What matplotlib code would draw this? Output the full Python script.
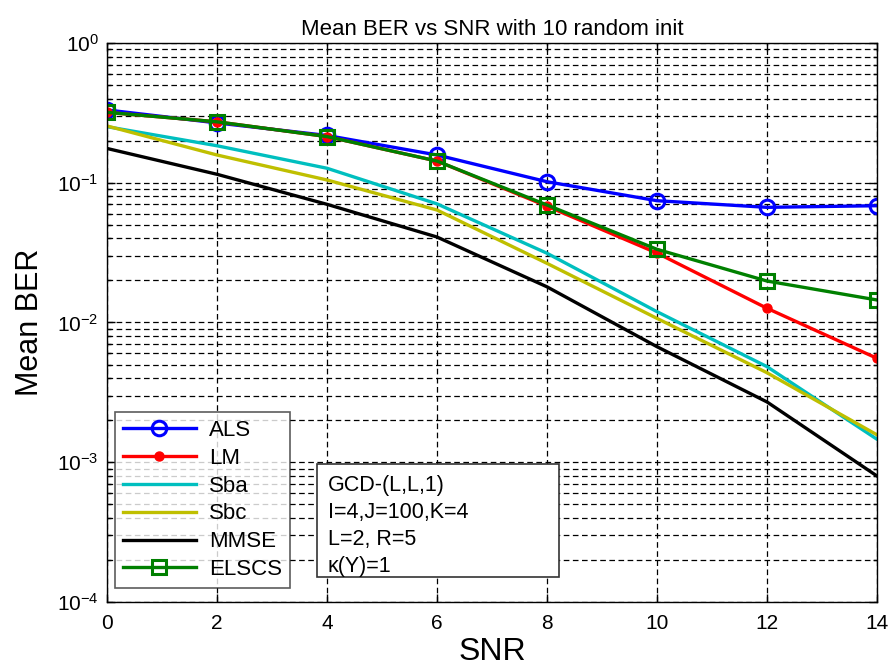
import matplotlib
matplotlib.use("Agg")
import matplotlib.pyplot as plt
from matplotlib.ticker import LogLocator, NullFormatter
from matplotlib.patches import Rectangle

plt.rcParams['font.family'] = ['Liberation Sans', 'DejaVu Sans']
plt.rcParams['mathtext.fontset'] = 'custom'
plt.rcParams['mathtext.rm'] = 'Liberation Sans'
plt.rcParams['mathtext.it'] = 'Liberation Sans'

snr = [0, 2, 4, 6, 8, 10, 12, 14]
als = [0.332, 0.268, 0.218, 0.158, 0.1017, 0.0744, 0.0667, 0.0685]
lm = [0.319, 0.273, 0.214, 0.143, 0.068, 0.0314, 0.01264, 0.00554]
sba = [0.252, 0.184, 0.127, 0.0706, 0.0313, 0.01195, 0.00483, 0.00146]
sbc = [0.255, 0.158, 0.1047, 0.0638, 0.0265, 0.0107, 0.00437, 0.00157]
mmse = [0.176, 0.115, 0.0701, 0.0409, 0.018, 0.00671, 0.0027, 0.000797]
elscs = [0.319, 0.273, 0.214, 0.143, 0.0693, 0.0334, 0.0198, 0.01449]

info_lines = ['GCD-(L,L,1)', 'I=4,J=100,K=4', 'L=2, R=5', 'κ(Y)=1']

fig = plt.figure(figsize=(8.9, 6.67), dpi=100)
ax = fig.add_axes([0.1202, 0.0975, 0.8652, 0.838])

lw = 2.4
ax.plot(snr, als, color=(0, 0, 1), lw=lw, marker='o', markersize=10.5,
        markerfacecolor='none', markeredgewidth=2.2, label='ALS')
ax.plot(snr, lm, color=(1, 0, 0), lw=lw, marker='.', markersize=13,
        label='LM')
ax.plot(snr, sba, color=(0, 0.75, 0.75), lw=lw, label='Sba')
ax.plot(snr, sbc, color=(0.75, 0.75, 0), lw=lw, label='Sbc')
ax.plot(snr, mmse, color='black', lw=lw, label='MMSE')
ax.plot(snr, elscs, color=(0, 0.5, 0), lw=lw, marker='s', markersize=10.5,
        markerfacecolor='none', markeredgewidth=2.2, label='ELSCS')

ax.set_yscale('log')
ax.set_xlim(0, 14)
ax.set_ylim(1e-4, 1)
ax.set_xticks(snr)
ax.yaxis.set_major_locator(LogLocator(base=10, numticks=10))
ax.yaxis.set_minor_locator(LogLocator(base=10, subs=range(2, 10), numticks=20))
ax.yaxis.set_minor_formatter(NullFormatter())

dash = (0, (4.5, 2.8))
ax.grid(True, which='major', axis='both', color='black', linestyle=dash, lw=0.9)
ax.grid(True, which='minor', axis='y', color='black', linestyle=dash, lw=0.9)

ax.tick_params(which='both', direction='in', top=True, right=True,
               labelsize=15, length=6, width=1)
ax.tick_params(axis='x', pad=9)
ax.tick_params(axis='y', pad=6)
ax.tick_params(which='minor', length=3)
for s in ax.spines.values():
    s.set_linewidth(1.0)

ax.set_title('Mean BER vs SNR with 10 random init', fontsize=16, pad=5.5)
ax.set_xlabel('SNR', fontsize=23)
ax.set_ylabel('Mean BER', fontsize=22)
ax.xaxis.set_label_coords(0.5, -0.062)
ax.yaxis.set_label_coords(-0.08, 0.5)

leg = ax.legend(loc='lower left', bbox_to_anchor=(0.0104, 0.025), fontsize=16,
                frameon=True, fancybox=False, edgecolor='#333333',
                handlelength=3.3, handletextpad=0.6, labelspacing=0.31,
                borderpad=0.35, borderaxespad=0)
leg.get_frame().set_linewidth(1.2)

box = Rectangle((0.2727, 0.0447), 0.587 - 0.2727, 0.2469 - 0.0447,
                transform=ax.transAxes, facecolor='white', edgecolor='#333333',
                linewidth=1.2, zorder=4)
ax.add_patch(box)
ax.text(0.2870, 0.2265, '\n'.join(info_lines),
        transform=ax.transAxes, fontsize=15.5, va='top', ha='left',
        linespacing=1.36, zorder=5)

fig.savefig('out.png', dpi=100)
